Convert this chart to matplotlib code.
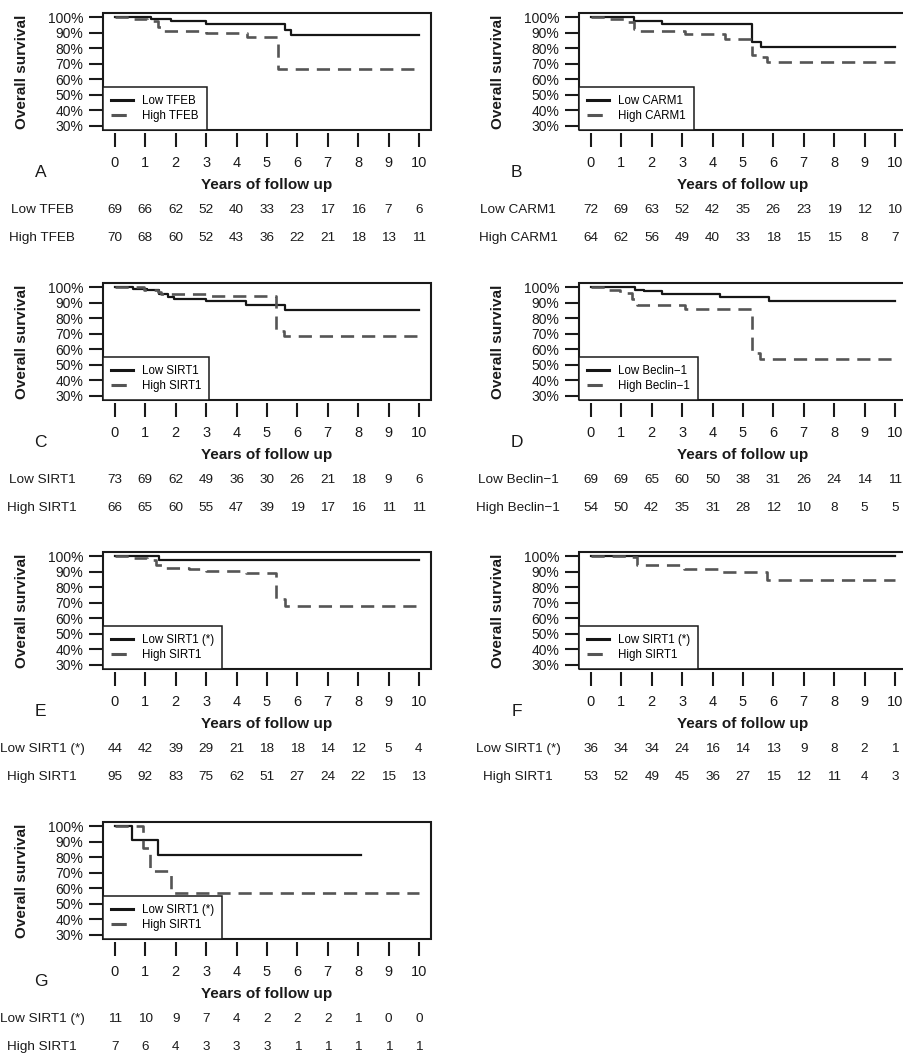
import matplotlib
matplotlib.use('Agg')
import matplotlib.pyplot as plt
from matplotlib.patches import Rectangle

plt.rcParams['font.family'] = ['Liberation Sans', 'DejaVu Sans']

# panel letters and group names
panels = ['A', 'B', 'C', 'D', 'E', 'F', 'G']
low_names = ['Low TFEB', 'Low CARM1', 'Low SIRT1', 'Low Beclin\u22121',
             'Low SIRT1 (*)', 'Low SIRT1 (*)', 'Low SIRT1 (*)']
high_names = ['High TFEB', 'High CARM1', 'High SIRT1', 'High Beclin\u22121',
              'High SIRT1', 'High SIRT1', 'High SIRT1']

# Kaplan-Meier steps (time in years, survival fraction)
low_times = [[0, 1.2, 1.85, 3.0, 5.6, 5.8],
             [0, 1.4, 2.35, 5.3, 5.6],
             [0, 0.6, 1.05, 1.45, 1.75, 1.95, 3.0, 4.3, 5.6],
             [0, 1.45, 1.75, 2.35, 4.25, 5.85],
             [0, 1.45],
             [0],
             [0, 0.57, 1.4]]
low_surv = [[1.0, 0.99, 0.975, 0.955, 0.92, 0.885],
            [1.0, 0.975, 0.958, 0.842, 0.81],
            [1.0, 0.99, 0.983, 0.96, 0.94, 0.926, 0.91, 0.887, 0.851],
            [1.0, 0.985, 0.975, 0.958, 0.936, 0.909],
            [1.0, 0.975],
            [1.0],
            [1.0, 0.909, 0.818]]
low_end = [10, 10, 10, 10, 10, 10, 8.1]

high_times = [[0, 0.55, 1.05, 1.4, 1.5, 3.0, 4.35, 5.35],
              [0, 0.55, 1.1, 1.4, 1.5, 3.1, 4.4, 5.3, 5.55, 5.8],
              [0, 0.95, 1.4, 1.5, 3.0, 5.3, 5.55],
              [0, 0.55, 0.95, 1.35, 1.5, 3.1, 5.3, 5.55],
              [0, 0.55, 1.05, 1.35, 1.55, 2.45, 3.0, 4.3, 5.3, 5.6],
              [0, 1.35, 1.5, 3.05, 4.25, 5.8],
              [0, 0.93, 1.15, 1.85]]
high_surv = [[1.0, 0.987, 0.974, 0.94, 0.91, 0.9, 0.875, 0.665],
             [1.0, 0.99, 0.968, 0.925, 0.91, 0.89, 0.863, 0.757, 0.743, 0.709],
             [1.0, 0.983, 0.968, 0.955, 0.945, 0.72, 0.684],
             [1.0, 0.983, 0.964, 0.926, 0.889, 0.858, 0.576, 0.534],
             [1.0, 0.989, 0.979, 0.947, 0.926, 0.915, 0.904, 0.89, 0.724, 0.682],
             [1.0, 0.994, 0.947, 0.921, 0.898, 0.847],
             [1.0, 0.857, 0.714, 0.571]]
high_end = [10, 10, 10, 10, 10, 10, 10]

# numbers at risk at years 0..10
years = list(range(11))
low_risk = [[69, 66, 62, 52, 40, 33, 23, 17, 16, 7, 6],
            [72, 69, 63, 52, 42, 35, 26, 23, 19, 12, 10],
            [73, 69, 62, 49, 36, 30, 26, 21, 18, 9, 6],
            [69, 69, 65, 60, 50, 38, 31, 26, 24, 14, 11],
            [44, 42, 39, 29, 21, 18, 18, 14, 12, 5, 4],
            [36, 34, 34, 24, 16, 14, 13, 9, 8, 2, 1],
            [11, 10, 9, 7, 4, 2, 2, 2, 1, 0, 0]]
high_risk = [[70, 68, 60, 52, 43, 36, 22, 21, 18, 13, 11],
             [64, 62, 56, 49, 40, 33, 18, 15, 15, 8, 7],
             [66, 65, 60, 55, 47, 39, 19, 17, 16, 11, 11],
             [54, 50, 42, 35, 31, 28, 12, 10, 8, 5, 5],
             [95, 92, 83, 75, 62, 51, 27, 24, 22, 15, 13],
             [53, 52, 49, 45, 36, 27, 15, 12, 11, 4, 3],
             [7, 6, 4, 3, 3, 3, 1, 1, 1, 1, 1]]

pct_ticks = [0.3, 0.4, 0.5, 0.6, 0.7, 0.8, 0.9, 1.0]
pct_labels = ['30%', '40%', '50%', '60%', '70%', '80%', '90%', '100%']

W, H = 904, 1057
col_left = [102.8, 578.8]
row_top = [13, 283, 552, 822]
box_w, box_h = 328.3, 117
ink = '#1a1a1a'

fig = plt.figure(figsize=(W / 100, H / 100), dpi=100)

for i in range(len(panels)):
    L = col_left[i % 2]
    T = row_top[i // 2]
    ax = fig.add_axes([L / W, 1 - (T + box_h) / H, box_w / W, box_h / H])

    ax.step(low_times[i] + [low_end[i]], low_surv[i] + [low_surv[i][-1]],
            where='post', color='#161616', lw=1.6, label=low_names[i])
    ax.step(high_times[i] + [high_end[i]], high_surv[i] + [high_surv[i][-1]],
            where='post', color='#555555', lw=1.9, ls=(0, (5, 3)),
            label=high_names[i])

    ax.set_xlim(-0.4, 10.4)
    ax.set_ylim(0.272, 1.028)
    for s in ax.spines.values():
        s.set_visible(False)
    ax.spines['bottom'].set_position(('outward', 2))
    ax.add_patch(Rectangle((0, 0), 1, 1, transform=ax.transAxes, fill=False,
                           lw=1.5, edgecolor=ink, clip_on=False, zorder=5))

    ax.set_xticks(years)
    ax.set_xticklabels([str(y) for y in years])
    ax.set_yticks(pct_ticks)
    ax.set_yticklabels(pct_labels)
    ax.tick_params(axis='x', direction='out', length=10, width=1.5,
                   pad=7, labelsize=10.5, colors=ink)
    ax.tick_params(axis='y', direction='out', length=10, width=1.5,
                   pad=4, labelsize=10, colors=ink)

    leg = ax.legend(loc='lower left', borderaxespad=0, fancybox=False,
                    edgecolor=ink, framealpha=1, fontsize=8.3,
                    handlelength=1.9, borderpad=0.7, labelspacing=0.25,
                    handletextpad=0.8)
    leg.get_frame().set_linewidth(1.1)
    for ln in leg.get_lines():
        ln.set_linewidth(2.2)

    ax.text(-0.246, 0.5, 'Overall survival', rotation=90, fontsize=11,
            fontweight='bold', ha='center', va='center', color=ink,
            transform=ax.transAxes)
    ax.text(0.5, -0.47, 'Years of follow up', fontsize=11, fontweight='bold',
            ha='center', va='center', color=ink, transform=ax.transAxes)
    ax.text(-0.189, -0.36, panels[i], fontsize=12.5, ha='center', va='center',
            color=ink, transform=ax.transAxes)

    # number at risk table
    trans = ax.get_xaxis_transform()
    for row_y, name, counts in [(-0.684, low_names[i], low_risk[i]),
                                (-0.923, high_names[i], high_risk[i])]:
        ax.text(-0.185, row_y, name, fontsize=9.7, ha='center', va='center',
                color=ink, transform=ax.transAxes, clip_on=False)
        for y, n in zip(years, counts):
            ax.text(y, row_y, str(n), fontsize=9.7, ha='center', va='center',
                    color=ink, transform=trans, clip_on=False)

fig.savefig('out.png', dpi=100)
